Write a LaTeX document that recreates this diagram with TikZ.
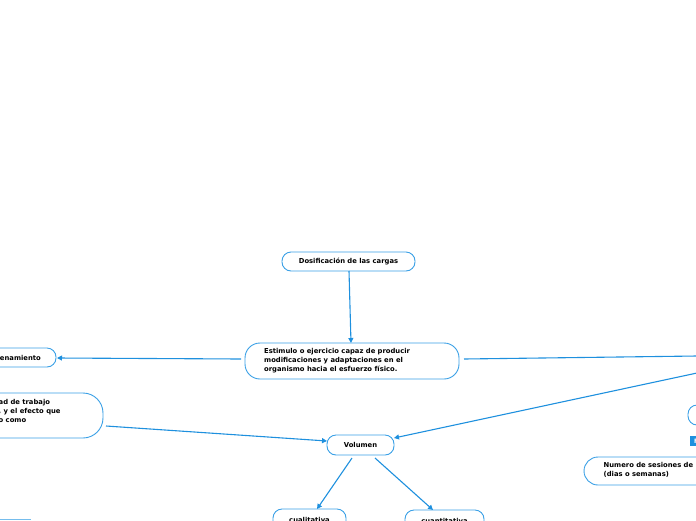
\documentclass[tikz,border=0pt]{standalone}
\usepackage{fontspec}
\setmainfont{DejaVu Sans}
\usetikzlibrary{arrows.meta}
\definecolor{bord}{RGB}{58,160,230}
\definecolor{conn}{RGB}{30,144,222}
\tikzset{
  box/.style={draw=bord, line width=0.9pt, fill=white, rounded corners=#1, inner sep=0pt},
  box/.default=9pt,
  lbl/.style={font=\bfseries\fontsize{6.8}{9}\selectfont, align=left, inner sep=0pt},
  conline/.style={draw=conn, line width=1.1pt},
  arr/.style={conline, -{Triangle[length=5pt,width=5pt]}}
}
\begin{document}
\begin{tikzpicture}[x=1pt,y=-1pt]
\useasboundingbox (0,0) rectangle (696,520);
\clip (0,0) rectangle (696,520);
% boxes
\draw[box] (282,252) rectangle (415,271);
\node[lbl, anchor=center] (dosif) at (348.5,261.5) {Dosificación de las cargas};
\coordinate (dosifB) at (349,271);

\draw[box=15pt] (245,343) rectangle (459,379);
\node[lbl, anchor=north west] (estim) at (264,348) {Estimulo o ejercicio capaz de producir\\modificaciones y adaptaciones en el\\organismo hacia el esfuerzo físico.};
\coordinate (estimT) at (351,343);
\coordinate (estimL) at (241,359);
\coordinate (estimR) at (464,359);

\draw[box] (-60,348) rectangle (56,367);
\node[lbl, anchor=east] (entr) at (41,357.5) {enamiento};
\coordinate (entrR) at (57,358);

\draw[box=20pt] (-80,393) rectangle (103,438);
\node[lbl, anchor=north west] (trab) at (-1.5,399) {ad de trabajo\\, y el efecto que\\o como};
\coordinate (trabR) at (106,426);

\draw[box] (327,435) rectangle (394,455);
\node[lbl, anchor=center] (vol) at (360.5,445) {Volumen};
\coordinate (volL) at (327,441);
\coordinate (volR) at (394,438);
\coordinate (volB1) at (352,458);
\coordinate (volB2) at (375,458);

\draw[box] (273,509) rectangle (346,540);
\node[lbl, anchor=center] (cual) at (309.5,520) {cualitativa};
\coordinate (cualT) at (317,509);

\draw[box] (405,510) rectangle (484,540);
\node[lbl, anchor=center] (cuan) at (444.5,520.5) {cuantitativa};
\coordinate (cuanT) at (433,510);

\draw[box=14pt] (584,457) rectangle (760,485);
\node[lbl, anchor=north west] (ses) at (603.5,462) {Numero de sesiones de\\(dias o semanas)};

\draw[box] (688,405) rectangle (760,425);
\node[inner sep=0pt] (rnode) at (700,415) {};
\node[fill=conn, text=white, font=\bfseries\fontsize{6}{6}\selectfont, minimum width=12pt, minimum height=10pt, inner sep=0pt, anchor=north west] (fbox) at (690,436) {F};

\draw[draw=bord!70, line width=1pt] (0,519.5) -- (31,519.5);
\coordinate (edgeR1) at (697,356);
\coordinate (edgeR2) at (697,373);

% connectors
\draw[arr] (dosifB) -- (estimT);
\draw[arr] (estimL) -- (entrR);
\draw[conline] (estimR) -- (edgeR1);
\draw[arr] (edgeR2) -- (volR);
\draw[arr] (trabR) -- (volL);
\draw[arr] (volB1) -- (cualT);
\draw[arr] (volB2) -- (cuanT);
\end{tikzpicture}
\end{document}
